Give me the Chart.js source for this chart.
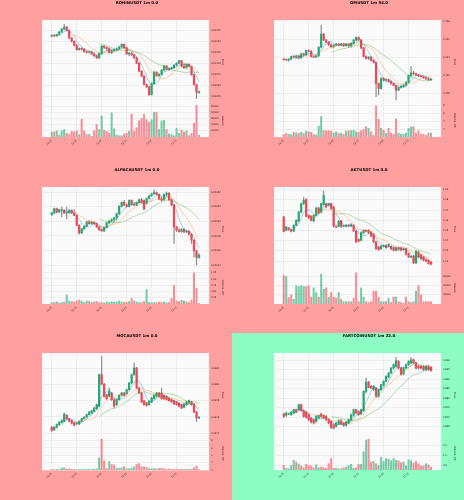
<!DOCTYPE html>
<html>
<head>
<meta charset="utf-8">
<script src="https://cdn.jsdelivr.net/npm/chart.js@4.4.1/dist/chart.umd.min.js"></script>
<style>
 html, body { margin: 0; padding: 0; width: 464px; height: 500px; overflow: hidden; background: #ff9f9f; }
 .panel { position: absolute; width: 232px; height: 167px; }
 .panel canvas { display: block; }
</style>
</head>
<body>
<script>
// x tick labels, one every 10 candles
const timeTicks = ['12:25', '12:35', '12:45', '12:55', '13:05', '13:15'];

// RONINUSDT
const roninOpen = [0.51162,0.51163,0.51162,0.51165,0.51171,0.51177,0.51182,0.51174,0.51157,0.5115,0.51141,0.51131,0.51134,0.51132,0.51126,0.51125,0.51126,0.51121,0.51117,0.51112,0.51122,0.51139,0.51136,0.51133,0.51124,0.51129,0.5113,0.51133,0.51137,0.51143,0.51135,0.51121,0.51123,0.51119,0.51112,0.511,0.51082,0.51071,0.51052,0.51047,0.51029,0.51054,0.5108,0.51072,0.51075,0.51085,0.51094,0.51086,0.51088,0.5109,0.51096,0.511,0.51106,0.51094,0.5109,0.51098,0.51093,0.51074,0.51052,0.51034];
const roninHigh = [0.51165,0.51165,0.51166,0.51172,0.51179,0.51188,0.51183,0.51176,0.51159,0.51151,0.51143,0.51135,0.51135,0.51134,0.51128,0.51127,0.51127,0.51123,0.51118,0.51123,0.5114,0.5114,0.51137,0.51135,0.5113,0.51132,0.51135,0.51139,0.51144,0.51144,0.51137,0.51124,0.51124,0.51121,0.51114,0.51102,0.51084,0.51072,0.51053,0.51048,0.51056,0.51082,0.51081,0.51077,0.51086,0.51095,0.51095,0.5109,0.51091,0.51097,0.51102,0.51107,0.51107,0.511,0.51099,0.51099,0.51094,0.51076,0.51053,0.51038];
const roninLow = [0.51159,0.5116,0.51161,0.51163,0.51169,0.51176,0.51173,0.51156,0.51148,0.51139,0.51129,0.51129,0.5113,0.51125,0.51123,0.51123,0.5112,0.51115,0.51111,0.51111,0.5112,0.51133,0.5113,0.51123,0.51122,0.51127,0.51129,0.51132,0.51136,0.51134,0.5112,0.51117,0.51117,0.51111,0.51099,0.51081,0.51069,0.51051,0.51045,0.51027,0.51028,0.51053,0.51071,0.5107,0.51074,0.51083,0.51085,0.51084,0.51086,0.51088,0.51094,0.51099,0.51092,0.51088,0.51088,0.51092,0.51073,0.5105,0.5102,0.51032];
const roninClose = [0.51163,0.51162,0.51165,0.51171,0.51177,0.51182,0.51174,0.51157,0.5115,0.51141,0.51131,0.51134,0.51132,0.51126,0.51125,0.51126,0.51121,0.51117,0.51112,0.51122,0.51139,0.51136,0.51133,0.51124,0.51129,0.5113,0.51133,0.51137,0.51143,0.51135,0.51121,0.51123,0.51119,0.51112,0.511,0.51082,0.51071,0.51052,0.51047,0.51029,0.51054,0.5108,0.51072,0.51075,0.51085,0.51094,0.51086,0.51088,0.5109,0.51096,0.511,0.51106,0.51094,0.5109,0.51098,0.51093,0.51074,0.51052,0.51034,0.51036];
const roninVolume = [8000,8000,10000,3000,10000,12000,6000,4000,9000,8000,10000,4000,29000,10000,4000,4000,1000,10000,20000,12000,34000,11000,9000,6000,39000,13000,3000,2000,2000,5000,6000,9000,37000,9000,15000,26000,30000,37000,28000,24000,28000,40000,40000,12000,26000,27000,12000,5000,4000,2000,14000,6000,11000,8000,10000,2000,6000,22000,51000,3000];
const roninPriceTicks = [0.51025, 0.5105, 0.51075, 0.511, 0.51125, 0.5115, 0.51175];
const roninVolTicks = [10000, 20000, 30000, 40000, 50000];

// OMUSDT
const omOpen = [0.23178,0.23174,0.23167,0.23178,0.23207,0.232,0.23214,0.23193,0.23236,0.23225,0.23273,0.23265,0.23207,0.232,0.23214,0.23309,0.23455,0.23389,0.23364,0.23338,0.23316,0.23331,0.23345,0.23331,0.23345,0.23327,0.23345,0.23324,0.23353,0.23389,0.23418,0.23389,0.23302,0.23207,0.23185,0.232,0.23164,0.23142,0.22909,0.22854,0.22964,0.22945,0.22953,0.22931,0.22909,0.22887,0.22836,0.22865,0.2288,0.22891,0.22924,0.22996,0.23025,0.23018,0.23004,0.22993,0.22985,0.22974,0.2296,0.22949];
const omHigh = [0.23185,0.23182,0.23185,0.23214,0.23218,0.23225,0.23222,0.23244,0.23244,0.2328,0.23284,0.23273,0.23218,0.23222,0.23316,0.23553,0.23462,0.23396,0.23371,0.23345,0.23338,0.23353,0.23353,0.23353,0.23353,0.23353,0.23353,0.2336,0.23396,0.23425,0.23425,0.23396,0.23309,0.23218,0.23207,0.23207,0.23171,0.23149,0.22916,0.22974,0.22974,0.22964,0.2296,0.22938,0.22916,0.22894,0.22873,0.22887,0.22902,0.22931,0.23004,0.23098,0.23047,0.23025,0.23011,0.23,0.22993,0.22982,0.22967,0.22967];
const omLow = [0.23167,0.2316,0.23156,0.23171,0.23193,0.23185,0.23178,0.23185,0.23207,0.23218,0.23254,0.232,0.23193,0.23193,0.23207,0.23302,0.23382,0.23353,0.23327,0.23302,0.23302,0.23324,0.23324,0.23324,0.23316,0.2332,0.23309,0.23309,0.23345,0.23382,0.23382,0.23291,0.232,0.23178,0.23171,0.23156,0.23134,0.22764,0.22782,0.22843,0.22938,0.22938,0.22924,0.22902,0.2288,0.22727,0.22829,0.22858,0.22865,0.2288,0.22916,0.22982,0.23004,0.22996,0.22985,0.22978,0.22967,0.22953,0.22942,0.22942];
const omClose = [0.23174,0.23167,0.23178,0.23207,0.232,0.23214,0.23193,0.23236,0.23225,0.23273,0.23265,0.23207,0.232,0.23214,0.23309,0.23455,0.23389,0.23364,0.23338,0.23316,0.23331,0.23345,0.23331,0.23345,0.23327,0.23345,0.23324,0.23353,0.23389,0.23418,0.23389,0.23302,0.23207,0.23185,0.232,0.23164,0.23142,0.22909,0.22854,0.22964,0.22945,0.22953,0.22931,0.22909,0.22887,0.22836,0.22865,0.2288,0.22891,0.22924,0.22996,0.23025,0.23018,0.23004,0.22993,0.22985,0.22974,0.2296,0.22949,0.22956];
const omVolume = [0.6,0.9,0.7,0.6,1.2,1.0,0.9,1.2,0.9,1.5,1.3,1.2,0.6,0.5,2.8,5.2,1.6,1.6,1.6,1.5,1.0,1.3,0.9,1.0,0.7,1.5,1.6,1.6,1.7,1.3,1.2,1.6,1.9,2.6,2.2,1.3,0.4,7.9,4.5,2.2,1.7,0.9,2.2,1.0,0.7,4.6,1.0,0.7,0.7,1.0,2.2,2.6,2.6,1.0,1.6,0.7,0.7,0.4,1.0,1.0];
const omPriceTicks = [0.228, 0.23, 0.232, 0.234, 0.236];
const omVolTicks = [2, 4, 6, 8];

// ALPACAUSDT
const alpacaOpen = [0.0205091,0.0205114,0.0205173,0.0205127,0.020515,0.020515,0.0205114,0.0205118,0.020515,0.0205114,0.0205082,0.0204946,0.0204841,0.0204896,0.0204932,0.0204991,0.0204968,0.0204987,0.0204968,0.0204923,0.0204887,0.0204869,0.0204914,0.0204978,0.0205005,0.0205023,0.020505,0.0205105,0.0205205,0.0205259,0.0205223,0.0205205,0.0205286,0.0205232,0.0205223,0.0205259,0.0205295,0.0205286,0.020525,0.0205313,0.020535,0.0205377,0.0205395,0.0205368,0.0205304,0.0205295,0.0205368,0.0205386,0.0205295,0.0205223,0.0204923,0.0204878,0.020486,0.0204891,0.0204855,0.0204864,0.0204823,0.0204741,0.0204596,0.0204505];
const alpacaHigh = [0.0205123,0.0205182,0.0205182,0.0205168,0.0205195,0.0205159,0.0205195,0.0205159,0.0205159,0.0205159,0.0205091,0.0204955,0.0204905,0.0204941,0.0205,0.0205014,0.0205005,0.0204996,0.0204978,0.0204932,0.02049,0.0204923,0.0204987,0.0205014,0.0205037,0.0205059,0.0205114,0.0205214,0.0205268,0.0205286,0.0205241,0.0205295,0.0205295,0.0205264,0.0205268,0.0205309,0.0205313,0.0205295,0.0205323,0.0205359,0.0205386,0.0205431,0.0205404,0.0205377,0.0205332,0.0205377,0.0205404,0.0205395,0.0205304,0.0205232,0.0204932,0.0204905,0.02049,0.02049,0.0204878,0.0204878,0.0204832,0.0204751,0.0204605,0.020456];
const alpacaLow = [0.0205082,0.0205105,0.0205114,0.0205118,0.0205059,0.0205105,0.0205037,0.0205105,0.0205105,0.0205073,0.0204937,0.0204823,0.0204832,0.0204887,0.0204923,0.0204959,0.0204959,0.0204955,0.0204914,0.0204873,0.020486,0.020486,0.0204905,0.0204968,0.0204991,0.0204991,0.0205014,0.0205096,0.0205195,0.0205214,0.0205195,0.0205195,0.0205218,0.0205214,0.0205214,0.020525,0.020525,0.0205159,0.0205232,0.0205304,0.0205341,0.0205368,0.0205359,0.0205295,0.0205277,0.0205286,0.020535,0.0205286,0.0205214,0.0204696,0.020486,0.020485,0.020485,0.0204841,0.0204846,0.020481,0.0204696,0.0204514,0.0204401,0.0204492];
const alpacaClose = [0.0205114,0.0205173,0.0205127,0.0205159,0.020515,0.0205114,0.0205118,0.020515,0.0205114,0.0205082,0.0204946,0.0204841,0.0204896,0.0204932,0.0204991,0.0204968,0.0204987,0.0204968,0.0204923,0.0204887,0.0204869,0.0204914,0.0204978,0.0205005,0.0205023,0.020505,0.0205105,0.0205205,0.0205259,0.0205223,0.0205205,0.0205286,0.0205232,0.0205223,0.0205259,0.0205295,0.0205259,0.0205168,0.0205313,0.020535,0.0205377,0.0205395,0.0205368,0.0205304,0.0205286,0.0205368,0.0205386,0.0205295,0.0205223,0.0204923,0.0204878,0.020486,0.0204891,0.0204855,0.0204864,0.0204823,0.0204741,0.0204596,0.0204505,0.0204537];
const alpacaVolume = [0.05,0.06,0.09,0.04,0.06,0.08,0.36,0.12,0.1,0.08,0.12,0.16,0.12,0.06,0.12,0.1,0.06,0.08,0.1,0.06,0.06,0.04,0.08,0.06,0.09,0.07,0.08,0.12,0.08,0.06,0.07,0.1,0.22,0.12,0.08,0.05,0.06,0.1,0.58,0.06,0.05,0.06,0.05,0.08,0.06,0.08,0.05,0.06,0.22,0.74,0.12,0.1,0.15,0.12,0.08,0.06,0.15,1.24,0.63,0.02];
const alpacaPriceTicks = [0.02044, 0.02046, 0.02048, 0.0205, 0.02052, 0.02054];
const alpacaVolTicks = [0.25, 0.5, 0.75, 1.0, 1.25];

// AKTUSDT
const aktOpen = [1.1632,1.1501,1.1524,1.1508,1.1495,1.155,1.1593,1.1681,1.1763,1.1802,1.1648,1.1638,1.1593,1.1648,1.172,1.1681,1.1753,1.1763,1.1746,1.1763,1.173,1.154,1.154,1.1593,1.154,1.154,1.155,1.1544,1.155,1.1495,1.141,1.1403,1.1478,1.1501,1.1501,1.1485,1.1462,1.1387,1.1338,1.1321,1.1344,1.1354,1.1344,1.1344,1.1328,1.1305,1.1331,1.1328,1.1311,1.1321,1.1272,1.1239,1.1246,1.1181,1.1289,1.1262,1.1239,1.1213,1.1207,1.119];
const aktHigh = [1.1638,1.154,1.153,1.1514,1.1557,1.1606,1.1687,1.1769,1.1828,1.1812,1.1655,1.1648,1.1655,1.173,1.173,1.1769,1.1887,1.1769,1.1769,1.1769,1.1737,1.155,1.1599,1.1599,1.1553,1.1557,1.1557,1.1566,1.1557,1.1501,1.1419,1.1485,1.1508,1.1508,1.1508,1.1491,1.1468,1.1393,1.1344,1.1354,1.136,1.136,1.137,1.1351,1.1338,1.1338,1.1338,1.1338,1.1331,1.1328,1.1279,1.1256,1.1256,1.1305,1.1298,1.1266,1.1246,1.1223,1.1213,1.1197];
const aktLow = [1.1485,1.1495,1.1501,1.1485,1.1488,1.1544,1.1583,1.1671,1.1753,1.1632,1.1616,1.1593,1.1583,1.1638,1.1665,1.1671,1.1746,1.172,1.1737,1.1704,1.1534,1.1524,1.1534,1.1527,1.1534,1.1534,1.1534,1.1534,1.1485,1.1377,1.1387,1.1396,1.1468,1.1485,1.1468,1.1436,1.1377,1.1311,1.1305,1.1311,1.1338,1.1324,1.1338,1.1311,1.1298,1.1298,1.1305,1.1298,1.1305,1.1256,1.1233,1.123,1.1174,1.1174,1.1233,1.1213,1.12,1.119,1.1168,1.1161];
const aktClose = [1.1491,1.1534,1.1508,1.1491,1.155,1.1599,1.1681,1.1763,1.1795,1.1638,1.1625,1.1599,1.1648,1.172,1.1671,1.1763,1.1844,1.173,1.1763,1.1714,1.154,1.1534,1.1589,1.154,1.1547,1.155,1.1544,1.1557,1.1495,1.1387,1.1393,1.1478,1.1501,1.1491,1.1478,1.1442,1.1387,1.1321,1.1311,1.1347,1.1354,1.1331,1.1364,1.1318,1.1305,1.1328,1.1315,1.1305,1.1321,1.1266,1.1239,1.1246,1.1181,1.1298,1.1239,1.1223,1.1207,1.12,1.1174,1.1168];
const aktVolume = [62000,60000,14000,20000,10000,40000,38000,40000,38000,38000,40000,15000,35000,25000,15000,65000,32000,35000,15000,25000,15000,13000,25000,10000,5000,5000,5000,5000,13000,68000,5000,35000,15000,5000,3000,5000,28000,28000,15000,5000,5000,5000,13000,3000,15000,15000,5000,3000,2000,15000,5000,3000,5000,28000,40000,20000,5000,5000,5000,5000];
const aktPriceTicks = [1.12, 1.13, 1.14, 1.15, 1.16, 1.17, 1.18, 1.19];
const aktVolTicks = [20000, 40000, 60000];

// MOCAUSDT
const mocaOpen = [0.097474,0.097445,0.097474,0.097506,0.097535,0.097547,0.097621,0.09758,0.097556,0.097531,0.097515,0.097515,0.097547,0.09758,0.0976,0.097629,0.097649,0.09767,0.097702,0.097731,0.098118,0.098004,0.097874,0.097853,0.097894,0.097812,0.097751,0.097812,0.097865,0.097894,0.097886,0.097935,0.098016,0.098118,0.0982,0.097955,0.097894,0.0978,0.097772,0.097751,0.097784,0.097825,0.097853,0.097894,0.097894,0.097865,0.097853,0.097833,0.097812,0.0978,0.097784,0.097768,0.097751,0.097718,0.097751,0.097772,0.097784,0.097759,0.097661,0.097588];
const mocaHigh = [0.097486,0.097486,0.097515,0.097547,0.097568,0.097649,0.097629,0.097588,0.097564,0.097539,0.097531,0.097556,0.097588,0.097608,0.097637,0.09767,0.097686,0.097718,0.097759,0.098127,0.098343,0.098012,0.097882,0.097955,0.097902,0.097821,0.097825,0.097874,0.097902,0.097902,0.097943,0.098025,0.098127,0.098261,0.098208,0.097963,0.097902,0.097808,0.09778,0.0978,0.097841,0.097874,0.097902,0.097902,0.097955,0.097874,0.097861,0.097841,0.097821,0.097808,0.097792,0.097776,0.097759,0.097768,0.097792,0.097808,0.097792,0.097768,0.09767,0.097608];
const mocaLow = [0.097425,0.097433,0.097466,0.097494,0.097523,0.097539,0.097568,0.097539,0.097515,0.09749,0.097506,0.097506,0.097539,0.097572,0.097592,0.097621,0.097641,0.097661,0.097694,0.097723,0.097996,0.097841,0.097812,0.097845,0.0978,0.097718,0.097743,0.097804,0.097857,0.097857,0.097878,0.097927,0.098008,0.09811,0.097947,0.097886,0.097772,0.097743,0.097731,0.097743,0.097776,0.097816,0.097845,0.097845,0.097816,0.097816,0.097804,0.097792,0.097776,0.097751,0.097743,0.097723,0.097702,0.09771,0.097743,0.097764,0.097743,0.097653,0.097547,0.09758];
const mocaClose = [0.097433,0.097474,0.097506,0.097535,0.097556,0.097637,0.09758,0.097547,0.097523,0.097498,0.097523,0.097547,0.09758,0.097596,0.097629,0.097661,0.097678,0.09771,0.097751,0.098118,0.098004,0.097853,0.097825,0.097914,0.097812,0.097731,0.097812,0.097865,0.097894,0.097865,0.097935,0.098016,0.098118,0.0982,0.097955,0.097894,0.097784,0.097751,0.097743,0.097792,0.097833,0.097865,0.097894,0.097853,0.097825,0.097825,0.097812,0.0978,0.097784,0.097759,0.097751,0.097731,0.09771,0.097759,0.097784,0.0978,0.097751,0.097661,0.097588,0.097596];
const mocaVolume = [0.15,0.1,0.12,0.1,0.55,0.6,0.3,0.3,0.2,0.15,0.1,0.12,0.1,0.1,0.12,0.15,0.12,0.2,0.3,3.3,8.4,2.5,0.4,2.3,1.5,1.4,0.5,0.4,0.6,0.9,0.3,0.35,0.5,0.8,1.5,1.7,0.9,0.8,0.7,0.4,0.3,0.4,0.3,0.4,0.5,0.3,0.2,0.25,0.2,0.15,0.2,0.15,0.2,0.15,0.2,0.15,0.2,0.6,1.1,0.1];
const mocaPriceTicks = [0.0974, 0.0976, 0.0978, 0.098, 0.0982];
const mocaVolTicks = [0, 2, 4, 6, 8];

// FARTCOINUSDT
const fartOpen = [0.8717,0.871,0.8717,0.8713,0.8722,0.874,0.874,0.8766,0.8734,0.8727,0.8713,0.8695,0.8687,0.8678,0.8695,0.8717,0.871,0.8704,0.8687,0.8678,0.866,0.8652,0.8664,0.8681,0.8669,0.8657,0.8669,0.8687,0.871,0.874,0.8731,0.8717,0.8734,0.8836,0.8886,0.8863,0.8845,0.8854,0.881,0.8845,0.8868,0.8889,0.891,0.8933,0.8959,0.8968,0.8995,0.8959,0.8928,0.8959,0.8977,0.8986,0.9003,0.8986,0.8968,0.8968,0.8968,0.8951,0.8968,0.8963];
const fartHigh = [0.8722,0.8727,0.8722,0.8731,0.8743,0.8743,0.8769,0.8769,0.874,0.8731,0.8717,0.8699,0.8692,0.871,0.8713,0.8722,0.8713,0.871,0.8692,0.8681,0.8664,0.8674,0.8687,0.8687,0.8674,0.8678,0.8692,0.8717,0.8743,0.8743,0.8734,0.8743,0.884,0.8907,0.8889,0.8868,0.8868,0.8857,0.885,0.8875,0.8893,0.8919,0.8937,0.8963,0.8981,0.9016,0.8998,0.8963,0.8963,0.8981,0.8998,0.9016,0.9007,0.8991,0.8974,0.8974,0.8974,0.8974,0.8974,0.8968];
const fartLow = [0.8699,0.8704,0.8713,0.871,0.8717,0.8722,0.8734,0.8731,0.8699,0.8695,0.8681,0.8669,0.8664,0.8674,0.8692,0.8699,0.8692,0.8681,0.8664,0.8639,0.8639,0.8646,0.866,0.866,0.8652,0.8652,0.8664,0.8681,0.8704,0.8717,0.871,0.8713,0.8731,0.8827,0.8854,0.885,0.884,0.8805,0.8805,0.884,0.8863,0.8886,0.8907,0.8928,0.8954,0.8963,0.8954,0.8921,0.8924,0.8954,0.8972,0.8981,0.8981,0.8954,0.8954,0.8954,0.8945,0.8945,0.8945,0.8942];
const fartClose = [0.8704,0.8722,0.8717,0.8727,0.874,0.8727,0.8766,0.8734,0.8704,0.8699,0.8687,0.8674,0.8669,0.8704,0.871,0.8704,0.8695,0.8687,0.8669,0.8646,0.8643,0.8669,0.8681,0.8664,0.8657,0.8674,0.8687,0.8713,0.874,0.8722,0.8713,0.874,0.8836,0.8886,0.8857,0.8854,0.8863,0.881,0.8845,0.8872,0.8889,0.8915,0.8933,0.8959,0.8977,0.8998,0.8959,0.8924,0.8959,0.8977,0.8995,0.9003,0.8986,0.8959,0.8959,0.8959,0.8951,0.8968,0.8951,0.8945];
const fartVolume = [0.46,0.17,0.12,0.46,0.99,0.81,0.58,0.41,0.23,0.58,0.46,0.41,0.23,0.52,0.23,0.29,0.23,0.17,0.64,1.16,0.17,0.17,0.12,0.12,0.23,0.29,0.46,0.58,0.17,0.23,0.58,0.58,1.86,3.02,3.13,0.8,0.87,0.64,0.46,1.28,0.87,1.16,1.1,0.93,1.16,0.99,0.93,0.75,0.81,0.41,1.04,0.93,0.7,0.87,0.64,0.41,0.41,0.64,0.52,0.29];
const fartPriceTicks = [0.865, 0.87, 0.875, 0.88, 0.885, 0.89, 0.895, 0.9];
const fartVolTicks = [0.5, 1.0, 1.5, 2.0, 2.5, 3.0];

const SALMON = '#ff9f9f';
const MINT = '#8dfdc3';

const panels = [
 { title: 'RONINUSDT 1m 0.0', open: roninOpen, high: roninHigh, low: roninLow, close: roninClose, volume: roninVolume,
   priceTicks: roninPriceTicks, priceMin: 0.51008, priceMax: 0.51198, priceDec: 5,
   volTicks: roninVolTicks, volMax: 53300, volDec: 0, volTitle: 'Volume', bg: SALMON },
 { title: 'OMUSDT 1m 54.0', open: omOpen, high: omHigh, low: omLow, close: omClose, volume: omVolume,
   priceTicks: omPriceTicks, priceMin: 0.22683, priceMax: 0.2361, priceDec: 3,
   volTicks: omVolTicks, volMax: 8.4, volDec: 0, volTitle: 'Volume  10\u2075', bg: SALMON },
 { title: 'ALPACAUSDT 1m 0.0', open: alpacaOpen, high: alpacaHigh, low: alpacaLow, close: alpacaClose, volume: alpacaVolume,
   priceTicks: alpacaPriceTicks, priceMin: 0.020432, priceMax: 0.020547, priceDec: 5,
   volTicks: alpacaVolTicks, volMax: 1.32, volDec: 2, volTitle: 'Volume  10\u2076', bg: SALMON },
 { title: 'AKTUSDT 1m 0.0', open: aktOpen, high: aktHigh, low: aktLow, close: aktClose, volume: aktVolume,
   priceTicks: aktPriceTicks, priceMin: 1.1102, priceMax: 1.1926, priceDec: 2,
   volTicks: aktVolTicks, volMax: 72000, volDec: 0, volTitle: 'Volume', bg: SALMON },
 { title: 'MOCAUSDT 1m 0.0', open: mocaOpen, high: mocaHigh, low: mocaLow, close: mocaClose, volume: mocaVolume,
   priceTicks: mocaPriceTicks, priceMin: 0.097355, priceMax: 0.098384, priceDec: 4,
   volTicks: mocaVolTicks, volMax: 9.0, volDec: 0, volTitle: 'Volume  10\u2075', bg: SALMON },
 { title: 'FARTCOINUSDT 1m 22.0', open: fartOpen, high: fartHigh, low: fartLow, close: fartClose, volume: fartVolume,
   priceTicks: fartPriceTicks, priceMin: 0.85957, priceMax: 0.90385, priceDec: 3,
   volTicks: fartVolTicks, volMax: 3.34, volDec: 1, volTitle: 'Volume  10\u2075', bg: MINT }
];

const UP = '#22ab72';
const DOWN = '#ee4755';
const WICK = '#8a8a8a';
const VOL_UP = 'rgba(34,171,114,0.6)';
const VOL_DOWN = 'rgba(238,71,85,0.6)';
const MA_COLORS = ['rgba(31,119,180,0.5)', 'rgba(255,127,14,0.5)', 'rgba(44,160,44,0.5)'];
const MA_PERIODS = [5, 10, 20];
const GRID = '#e2e2e2';

Chart.defaults.font.family = 'DejaVu Sans';
Chart.defaults.color = '#222';

function sma(values, n) {
 return values.map((v, i) => {
  if (i < n - 1) return null;
  let s = 0;
  for (let k = i - n + 1; k <= i; k++) s += values[k];
  return s / n;
 });
}

const plotBg = {
 id: 'plotBg',
 beforeDraw(chart) {
  const a = chart.chartArea;
  const ctx = chart.ctx;
  ctx.save();
  ctx.fillStyle = '#fafafa';
  ctx.fillRect(a.left, a.top, a.width, a.height);
  ctx.restore();
 }
};

panels.forEach((p, i) => {
 const wrap = document.createElement('div');
 wrap.className = 'panel';
 wrap.style.left = (i % 2) * 232 + 'px';
 wrap.style.top = Math.round(Math.floor(i / 2) * 500 / 3) + 'px';
 wrap.style.background = p.bg;
 const canvas = document.createElement('canvas');
 canvas.width = 232;
 canvas.height = 167;
 wrap.appendChild(canvas);
 document.body.appendChild(wrap);

 const idx = p.close.map((_, k) => k);
 const up = idx.map(k => p.close[k] >= p.open[k]);

 const maSets = MA_PERIODS.map((n, m) => {
  const ma = sma(p.close, n);
  return {
   type: 'line',
   data: idx.map(k => ({ x: k, y: ma[k] })),
   borderColor: MA_COLORS[m],
   borderWidth: 0.7,
   pointRadius: 0,
   yAxisID: 'y',
   order: 0
  };
 });

 new Chart(canvas, {
  type: 'bar',
  data: {
   datasets: [
    ...maSets,
    {
     data: idx.map(k => ({ x: k, y: [p.open[k], p.close[k]] })),
     backgroundColor: up.map(u => u ? UP : DOWN),
     barThickness: 1.6,
     minBarLength: 0.6,
     grouped: false,
     yAxisID: 'y',
     order: 1
    },
    {
     data: idx.map(k => ({ x: k, y: [p.low[k], p.high[k]] })),
     backgroundColor: WICK,
     barThickness: 0.5,
     grouped: false,
     yAxisID: 'y',
     order: 2
    },
    {
     data: idx.map(k => ({ x: k, y: p.volume[k] })),
     backgroundColor: up.map(u => u ? VOL_UP : VOL_DOWN),
     barThickness: 1.4,
     grouped: false,
     yAxisID: 'v',
     order: 2
    }
   ]
  },
  options: {
   responsive: false,
   animation: false,
   layout: { padding: { left: 42, right: 0, top: 0, bottom: 0 } },
   plugins: {
    legend: { display: false },
    tooltip: { enabled: false },
    title: {
     display: true,
     text: p.title,
     color: '#000',
     font: { size: 3.9, weight: 'bold' },
     padding: { top: 1, bottom: 14.3 }
    }
   },
   scales: {
    x: {
     type: 'linear',
     min: -3.9,
     max: 63,
     offset: false,
     afterBuildTicks: s => { s.ticks = [0, 10, 20, 30, 40, 50].map(v => ({ value: v })); },
     afterFit: s => { s.height = 30; },
     ticks: {
      callback: v => timeTicks[Math.round(v / 10)],
      maxRotation: 45,
      minRotation: 45,
      font: { size: 2.4 },
      padding: 0.5
     },
     grid: { color: GRID, lineWidth: 0.5, offset: false, tickLength: 1.5 },
     border: { display: false }
    },
    y: {
     position: 'right',
     stack: 'right',
     stackWeight: 84,
     min: p.priceMin,
     max: p.priceMax,
     afterBuildTicks: s => { s.ticks = p.priceTicks.map(v => ({ value: v })); },
     afterFit: s => { s.width = 23; },
     ticks: { callback: v => v.toFixed(p.priceDec), font: { size: 2.4 }, padding: 1 },
     grid: { color: GRID, lineWidth: 0.5, tickLength: 1 },
     border: { display: false },
     title: { display: true, text: 'Price', font: { size: 2.6 }, padding: { top: 7.5, bottom: 0 } }
    },
    v: {
     position: 'right',
     stack: 'right',
     stackWeight: 33,
     min: 0,
     max: p.volMax,
     afterBuildTicks: s => { s.ticks = p.volTicks.map(v => ({ value: v })); },
     afterFit: s => { s.width = 23; },
     ticks: { callback: v => v.toFixed(p.volDec), font: { size: 2.4 }, padding: 1 },
     grid: { color: GRID, lineWidth: 0.5, tickLength: 1 },
     border: { display: false },
     title: { display: true, text: p.volTitle, font: { size: 2.6 }, padding: { top: 7.5, bottom: 0 } }
    }
   }
  },
  plugins: [plotBg]
 });
});
</script>
</body>
</html>
